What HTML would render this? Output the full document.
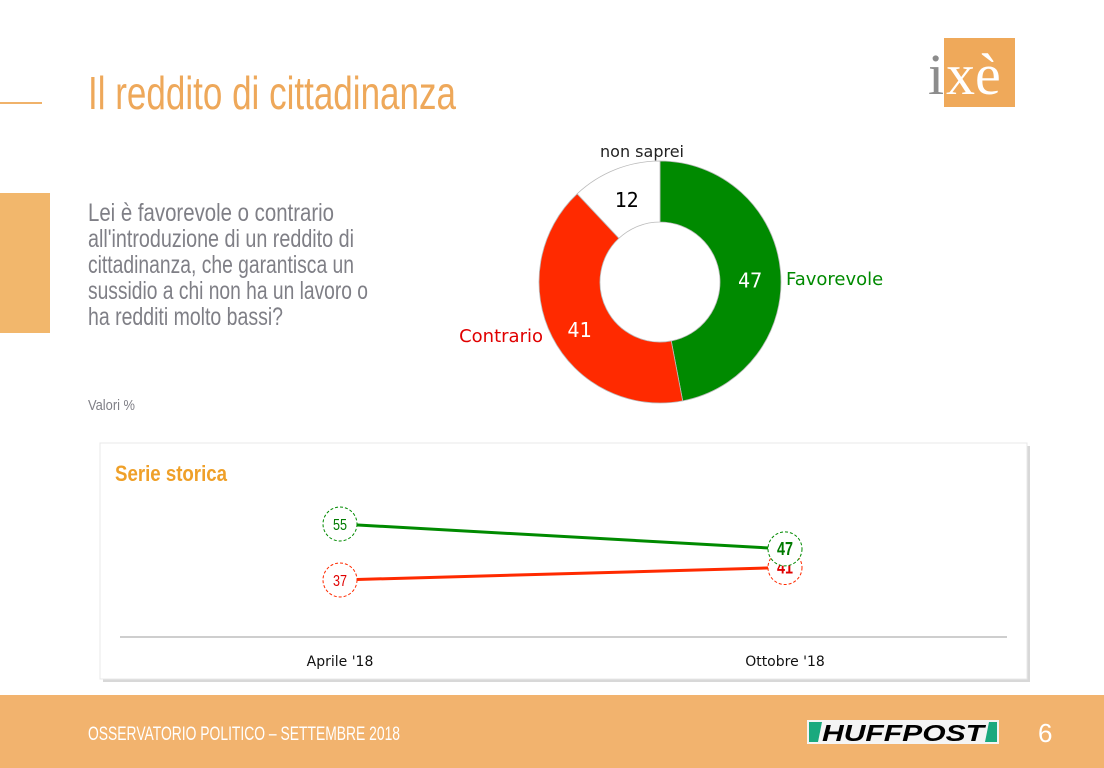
<!DOCTYPE html>
<html><head><meta charset="utf-8"><style>
html,body{margin:0;padding:0;background:#fff;}
svg{display:block;font-family:"Liberation Sans",sans-serif;}
</style></head><body>
<svg id="s" width="1104" height="768" viewBox="0 0 1104 768">
<rect x="0" y="102" width="42" height="2" fill="#f0b26a"/>
<text x="88" y="109" font-size="46" fill="#eea85a" textLength="368" lengthAdjust="spacingAndGlyphs" font-weight="300">Il reddito di cittadinanza</text>
<g>
<rect x="944" y="38" width="71" height="69" fill="#efa95a"/>
<text x="928" y="94" font-family="Liberation Serif,serif" font-size="58" fill="#8c8c8c">i</text>
<text x="946" y="94" font-family="Liberation Serif,serif" font-size="58" fill="#fff">xè</text>
</g>
<rect x="0" y="193" width="50" height="140" fill="#f2b76c"/>
<g fill="#7f7f86" font-size="25">
<text x="88" y="221" textLength="246" lengthAdjust="spacingAndGlyphs">Lei è favorevole o contrario</text>
<text x="88" y="247" textLength="266" lengthAdjust="spacingAndGlyphs">all'introduzione di un reddito di</text>
<text x="88" y="273" textLength="266" lengthAdjust="spacingAndGlyphs">cittadinanza, che garantisca un</text>
<text x="88" y="299" textLength="280" lengthAdjust="spacingAndGlyphs">sussidio a chi non ha un lavoro o</text>
<text x="88" y="325" textLength="195" lengthAdjust="spacingAndGlyphs">ha redditi molto bassi?</text>
</g>
<text x="88" y="410" font-size="15" fill="#7f7f86" textLength="47" lengthAdjust="spacingAndGlyphs">Valori %</text>
<g id="donut"></g>
<rect x="103" y="446" width="927" height="236" fill="#d8d8d8"/>
<rect x="100" y="443" width="927" height="236" fill="#fff" stroke="#e8e8e8"/>
<text x="115" y="481" font-size="22" fill="#efa029" font-weight="bold" textLength="112" lengthAdjust="spacingAndGlyphs">Serie storica</text>
<line x1="120" y1="637" x2="1007" y2="637" stroke="#bdbdbd" stroke-width="1.5"/>
<g id="lines"></g>
<rect x="0" y="695" width="1104" height="73" fill="#f2b36e"/>
<text x="88" y="740" font-size="19" fill="#fff" textLength="312" lengthAdjust="spacingAndGlyphs">OSSERVATORIO POLITICO – SETTEMBRE 2018</text>
<g>
<rect x="807" y="720" width="192" height="24" fill="#f4f4f4"/>
<polygon points="809,722 822,722 818,742 809,742" fill="#1aa97e"/>
<polygon points="989,722 997,722 997,742 985,742" fill="#1aa97e"/>
<text x="822" y="741" font-size="23" font-weight="bold" font-style="italic" fill="#000" textLength="162" lengthAdjust="spacingAndGlyphs">HUFFPOST</text>
</g>
<text x="1038" y="742" font-size="26" fill="#fff">6</text>
</svg>
<script>
const sliceLabels=["Favorevole","Contrario","non saprei"];
const sliceValues=[47,41,12];
const sliceColors=["#008a00","#ff2a00","#ffffff"];
const periods=["Aprile '18","Ottobre '18"];
const favSeries=[55,47];
const conSeries=[37,41];
const NS="http://www.w3.org/2000/svg";
function mk(t,a,p){const e=document.createElementNS(NS,t);for(const k in a)e.setAttribute(k,a[k]);p.appendChild(e);return e;}
const dg=document.getElementById('donut');
const cx=660,cy=282,R=121,r=60;
const tot=sliceValues.reduce((a,b)=>a+b,0);
let acc=0;
const pt=(ang,rad)=>[cx+rad*Math.sin(ang),cy-rad*Math.cos(ang)];
const labPos=[{x:786,y:285,a:"start",c:"#008a00",f:18},{x:543,y:342,a:"end",c:"#e00000",f:18},{x:642,y:157,a:"middle",c:"#222",f:16}];
sliceValues.forEach((v,i)=>{
  const a0=acc/tot*2*Math.PI;acc+=v;const a1=acc/tot*2*Math.PI;
  const lg=(a1-a0)>Math.PI?1:0;
  const [x0,y0]=pt(a0,R),[x1,y1]=pt(a1,R),[x2,y2]=pt(a1,r),[x3,y3]=pt(a0,r);
  const p=mk('path',{d:`M${x0},${y0}A${R},${R} 0 ${lg} 1 ${x1},${y1}L${x2},${y2}A${r},${r} 0 ${lg} 0 ${x3},${y3}Z`,fill:sliceColors[i],stroke:"#bbb","stroke-width":"0.8"},dg);
  
  
  const m=(a0+a1)/2;const [tx,ty]=pt(m,(R+r)/2);
  const t=mk('text',{x:tx,y:ty+(i==2?9:14),"text-anchor":"middle","font-size":"20",fill:i==2?"#000":"#fff","font-family":"DejaVu Sans Mono, monospace"},dg);
  t.textContent=v;
  
  
  const L=labPos[i];
  const lt=mk('text',{x:L.x,y:L.y,"text-anchor":L.a,"font-size":L.f,fill:L.c,"font-family":"DejaVu Sans, sans-serif"},dg);
  lt.textContent=sliceLabels[i];
  
  
});
const lg2=document.getElementById('lines');
const xS=i=>340+i*445;
const yS=v=>524+(55-v)*3.11;
periods.forEach((p,i)=>{
  const t=mk('text',{x:xS(i),y:666,"text-anchor":"middle","font-size":"14",fill:"#111","font-family":"DejaVu Sans, sans-serif"},lg2);
  t.textContent=p;
  
  
});
[[conSeries,"#ff2a00","#e00000","contrario"],[favSeries,"#008a00","#007a00","favorevole"]].forEach(([s,col,tc,nm])=>{
  const l=mk('polyline',{points:s.map((v,i)=>xS(i)+","+yS(v)).join(" "),fill:"none",stroke:col,"stroke-width":"3"},lg2);
  
  
  s.forEach((v,i)=>{
    const c=mk('circle',{cx:xS(i),cy:yS(v),r:17,fill:"#fff",stroke:col,"stroke-width":"1","stroke-dasharray":"3,2"},lg2);
    
    
    const t=mk('text',{x:xS(i),y:yS(v)+6,"text-anchor":"middle","font-size":i==1?"18":"16","font-weight":i==1?"bold":"normal",fill:tc,textLength:i==1?"16":"14",lengthAdjust:"spacingAndGlyphs"},lg2);
    t.textContent=v;
    
    
  });
});
</script>
</body></html>
